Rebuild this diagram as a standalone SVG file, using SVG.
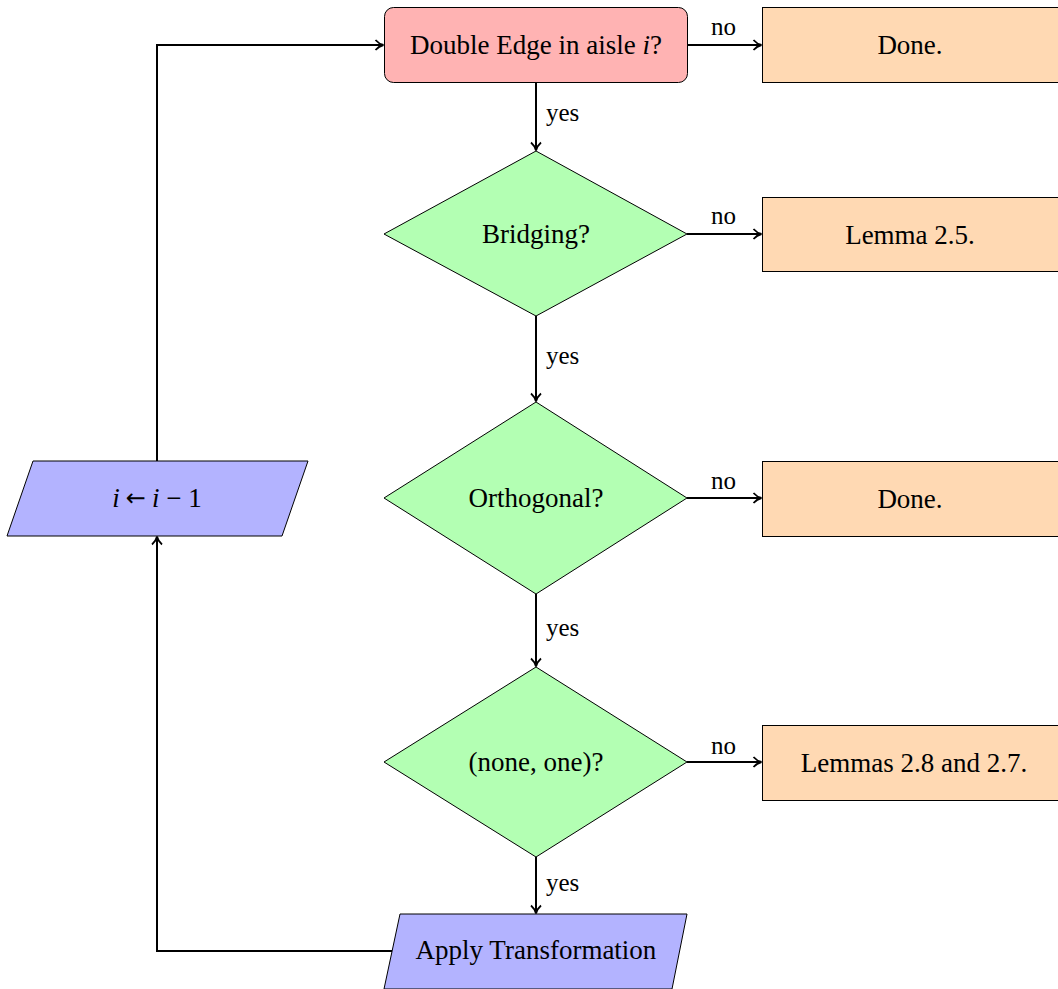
<svg xmlns="http://www.w3.org/2000/svg" width="1058" height="989" viewBox="0 0 1058 989">
<style>
.n{stroke:#000;stroke-width:1}
.start{fill:#ffb3b3}
.end{fill:#ffd9b3}
.dec{fill:#b3ffb3}
.io{fill:#b3b3ff}
text{font-family:'Liberation Serif','Times New Roman',Times,serif;font-size:27px;fill:#000}
.t{text-anchor:middle;dominant-baseline:central}
.l{font-size:25px}
.c{fill:none;stroke:#000;stroke-width:2}
</style>
<defs>
<marker id="ar" markerWidth="14" markerHeight="14" refX="10" refY="7" orient="auto" markerUnits="userSpaceOnUse">
<path d="M2.5,2 Q6,6 10.5,7 Q6,8 2.5,12" fill="none" stroke="#000" stroke-width="1.8"/>
</marker>
</defs>
<g id="start"><rect class="n start" x="384.5" y="7.5" width="303" height="75" rx="9"/><text class="t" x="536" y="45">Double Edge in aisle <tspan font-style="italic">i</tspan>?</text></g>
<g id="done1"><rect class="n end" x="762.5" y="7.5" width="300" height="75"/><text class="t" x="910" y="45">Done.</text></g>
<g id="bridging"><polygon class="n dec" points="536,151 687,234 536,316 384,234"/><text class="t" x="536" y="234">Bridging?</text></g>
<g id="lemma25"><rect class="n end" x="762.5" y="197.5" width="300" height="74"/><text class="t" x="910" y="235">Lemma 2.5.</text></g>
<g id="orth"><polygon class="n dec" points="536,402 687,498 536,594 384,498"/><text class="t" x="536" y="498">Orthogonal?</text></g>
<g id="done2"><rect class="n end" x="762.5" y="461.5" width="300" height="75"/><text class="t" x="910" y="499">Done.</text></g>
<g id="noneone"><polygon class="n dec" points="536,667 687,762 536,857 384,762"/><text class="t" x="536" y="762">(none, one)?</text></g>
<g id="lemmas"><rect class="n end" x="762.5" y="725.5" width="300" height="75"/><text class="t" x="914" y="763">Lemmas 2.8 and 2.7.</text></g>
<g id="apply"><polygon class="n io" points="400,914 687,914 672,989 384,989"/><text class="t" x="536" y="950">Apply Transformation</text></g>
<g id="dec"><polygon class="n io" points="33,461 308,461 282,536 7,536"/><text class="t" x="157" y="498"><tspan font-style="italic">i</tspan><tspan dx="6" font-family="'DejaVu Sans',sans-serif" font-size="24">←</tspan><tspan dx="6" font-style="italic">i</tspan> − 1</text></g>
<g id="connectors">
<path class="c" d="M536,82 V150" marker-end="url(#ar)"/>
<path class="c" d="M536,316 V401" marker-end="url(#ar)"/>
<path class="c" d="M536,594 V666" marker-end="url(#ar)"/>
<path class="c" d="M536,857 V913" marker-end="url(#ar)"/>
<path class="c" d="M687,45 H761" marker-end="url(#ar)"/>
<path class="c" d="M687,234 H761" marker-end="url(#ar)"/>
<path class="c" d="M687,498 H761" marker-end="url(#ar)"/>
<path class="c" d="M687,762 H761" marker-end="url(#ar)"/>
<path class="c" d="M157,461 V45 H383" marker-end="url(#ar)"/>
<path class="c" d="M392,951 H157 V537" marker-end="url(#ar)"/>
<text class="l" x="546" y="121">yes</text>
<text class="l" x="546" y="364">yes</text>
<text class="l" x="546" y="636">yes</text>
<text class="l" x="546" y="891">yes</text>
<text class="l" x="711" y="35">no</text>
<text class="l" x="711" y="224">no</text>
<text class="l" x="711" y="489">no</text>
<text class="l" x="711" y="754">no</text>
</g>
</svg>
